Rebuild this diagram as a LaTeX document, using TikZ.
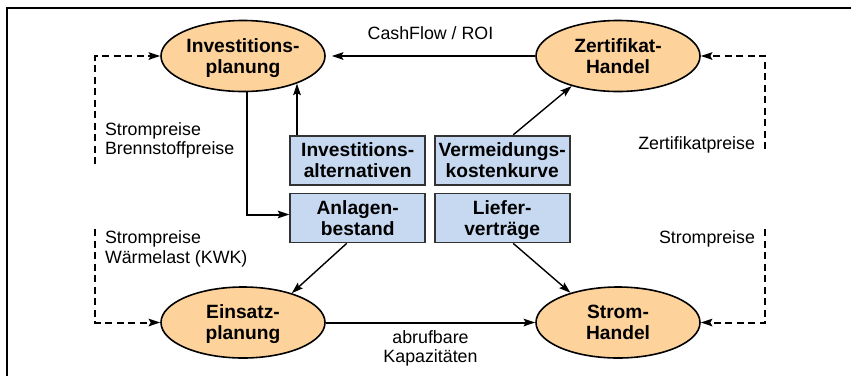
\documentclass[tikz,border=0pt]{standalone}
\usepackage{fontspec}
\setmainfont{Liberation Sans}
\usetikzlibrary{arrows.meta,shapes.geometric}

\definecolor{planfill}{RGB}{253,210,155}
\definecolor{boxfill}{RGB}{198,217,241}

\begin{document}
\begin{tikzpicture}[->,>={Stealth[length=11.5pt,width=7.5pt,inset=2pt]},x=1pt,y=1pt,
                    node distance=375pt,line width=2pt]
  \tikzstyle{plan}=[ellipse,draw=black,fill=planfill,line width=1.6pt,
    minimum width=164pt,minimum height=71pt,inner sep=0pt,align=center,
    text depth=0pt,font=\bfseries\fontsize{19.2}{21}\selectfont]
  \tikzstyle{tool}=[rectangle,draw=black!80,fill=boxfill,line width=1.7pt,
    minimum width=135pt,minimum height=49pt,inner sep=0pt,align=center,
    text depth=0pt,font=\bfseries\fontsize{19.2}{21}\selectfont]
  \tikzstyle{info}=[inner sep=0pt,font=\fontsize{17.8}{19.4}\selectfont]
  \tikzstyle{feed}=[dash pattern=on 7pt off 4.5pt]

  \useasboundingbox (0,0) rectangle (851,-376);
  \draw[-] (851,-8) -- (7,-8) -- (7,-376);

  \node[plan] (A) at (243,-56) {Investitions-\\planung};
  \node[plan] (B) [right of=A] {Zertifikat-\\Handel};
  \node[plan,node distance=266.5pt] (C) [below of=A] {Einsatz-\\planung};
  \node[plan] (D) [right of=C] {Strom-\\Handel};

  \node[tool] (alt) at (357.7,-160.2) {Investitions-\\alternativen};
  \node[tool,node distance=144.5pt] (vkk) [right of=alt] {Vermeidungs-\\kostenkurve};
  \node[tool,node distance=57.8pt] (bestand) [below of=alt] {Anlagen-\\bestand};
  \node[tool,node distance=57.8pt] (liefer) [below of=vkk] {Liefer-\\verträge};

  \node[info,anchor=north west,align=left] (lblA) at (104,-121.5) {Strompreise\\Brennstoffpreise};
  \node[info,anchor=north west,align=left] (lblC) at (104,-230) {Strompreise\\Wärmelast (KWK)};
  \node[info,anchor=north east] (lblB) at (756,-136) {Zertifikatpreise};
  \node[info,anchor=north east] (lblD) at (756,-229.3) {Strompreise};

  \coordinate (sA) at (95,-164);
  \coordinate (sC) at (95,-229);
  \coordinate (sB) at (765,-149);
  \coordinate (sD) at (765,-229);

  \path (B) edge[shorten >=6pt] node[info,above=15pt] {CashFlow / ROI} (A)
        (C) edge node[info,below=7pt,align=center] {abrufbare\\Kapazitäten} (D);

  \draw (A.-84) |- ([yshift=3.5pt]bestand.west);
  \draw (A.-27.4 |- alt.north) -- (A.-27.4);
  \draw[line width=1.4pt] ([xshift=11pt]vkk.north) -- (B.-147.4);
  \draw[line width=1.4pt] ([xshift=-11pt]bestand.south) -- (C.31.5);
  \draw[line width=1.4pt] ([xshift=11pt]liefer.south) -- (D.148.7);

  \draw[feed] (sA) |- (A.west);
  \draw[feed] (sC) |- (C.west);
  \draw[feed] (sB) |- (B.east);
  \draw[feed] (sD) |- (D.east);
\end{tikzpicture}
\end{document}
